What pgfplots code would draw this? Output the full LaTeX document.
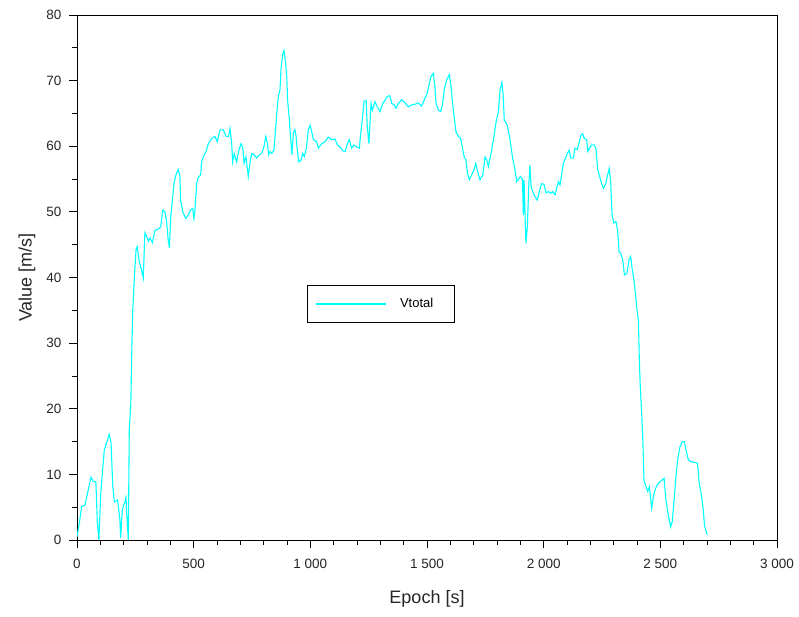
\documentclass[border=0pt]{standalone}
\usepackage{fontspec}
\setmainfont{Liberation Sans}
\usepackage{pgfplots}
\pgfplotsset{compat=1.18}
\definecolor{vcyan}{RGB}{0,255,255}

\pgfplotstableread{
x y
0 0.5
10 2.6
20 5.1
34 5.3
48 7.6
60 9.6
70 8.9
81 8.9
87 2.8
94 0
101 6.6
109 10.4
117 13.7
130 15.2
138 16.1
146 14.8
153 8.4
160 5.8
174 6.1
184 3.0
187 0.3
194 4.6
203 5.6
210 6.5
213 4.1
220 0
224 16.8
231 21.0
234 27.4
239 35.0
246 40.1
253 44.2
258 44.7
267 42.4
277 41.1
284 39.9
291 46.8
299 46.2
306 45.5
313 46.0
323 45.3
334 47.2
349 47.4
359 47.7
367 50.3
377 50.0
384 48.5
391 45.7
396 44.5
401 48.8
409 51.8
416 54.4
424 55.6
434 56.5
441 55.4
444 51.8
453 50.0
466 49.0
477 49.5
487 50.3
496 50.5
501 49.0
506 50.5
513 54.3
520 55.3
530 55.6
534 57.6
541 58.4
553 59.2
563 60.4
577 61.2
591 61.5
601 60.7
613 62.5
627 62.5
639 61.5
649 61.5
656 62.7
663 60.4
667 57.6
674 58.9
684 57.6
694 59.4
703 60.4
710 59.9
716 57.4
724 58.4
734 55.4
741 57.4
749 58.9
759 58.7
770 58.2
781 58.7
792 58.9
801 59.9
809 61.5
816 60.4
821 58.7
827 59.2
834 58.9
844 59.4
851 62.5
856 65.0
863 67.6
870 68.6
874 71.6
881 73.9
887 74.6
893 73.1
899 70.6
903 66.8
909 64.5
916 61.0
921 58.7
927 62.0
934 62.5
939 61.5
944 59.4
951 57.6
960 57.9
967 58.9
974 58.4
984 59.9
991 62.5
999 63.2
1006 62.2
1013 61.0
1027 60.7
1034 59.7
1049 60.4
1063 60.7
1077 61.4
1092 61.0
1106 61.1
1116 60.2
1127 59.9
1139 59.3
1149 59.2
1159 60.4
1167 61.0
1177 59.7
1187 60.2
1199 59.9
1210 59.7
1216 62.0
1224 64.5
1230 66.8
1239 67.0
1244 63.0
1251 60.4
1260 66.5
1266 65.5
1277 66.8
1287 66.0
1299 65.3
1310 66.5
1320 67.0
1330 67.6
1341 67.7
1349 66.5
1359 66.3
1367 65.8
1377 66.5
1391 67.1
1406 66.6
1420 66.0
1434 66.3
1449 66.4
1463 66.6
1477 66.1
1491 67.3
1501 68.1
1510 69.6
1517 70.6
1527 71.1
1534 69.1
1539 66.5
1549 65.5
1559 65.3
1567 66.5
1574 68.6
1584 70.1
1596 70.9
1603 69.1
1610 66.5
1617 64.3
1624 62.2
1634 61.5
1644 61.2
1651 59.9
1659 58.4
1667 57.9
1673 55.9
1681 54.9
1691 55.6
1701 56.4
1709 57.4
1717 56.1
1727 54.9
1739 55.6
1749 58.4
1756 57.9
1763 56.9
1777 59.4
1787 61.5
1796 63.7
1806 65.3
1813 68.6
1821 69.7
1827 67.6
1831 64.0
1844 63.2
1856 61.0
1866 58.4
1877 56.4
1884 54.6
1894 55.1
1901 55.4
1909 54.9
1913 49.5
1916 54.9
1920 49.8
1924 45.2
1930 47.7
1936 53.8
1941 57.1
1946 53.8
1953 53.1
1963 52.3
1973 51.8
1981 53.1
1991 54.3
2001 54.2
2010 52.9
2020 53.1
2030 52.8
2039 53.1
2049 52.6
2056 53.6
2063 54.6
2070 54.1
2077 55.6
2084 57.4
2094 58.2
2101 58.9
2109 59.4
2116 58.2
2127 58.2
2134 59.7
2144 59.5
2153 60.7
2160 61.7
2167 61.9
2174 61.2
2184 61.0
2189 59.2
2196 59.7
2206 60.2
2216 60.2
2224 59.7
2231 56.6
2238 55.6
2246 54.6
2256 53.6
2266 54.3
2274 55.6
2281 56.6
2287 54.6
2293 49.5
2301 48.3
2310 48.5
2317 47.2
2323 43.9
2330 43.7
2339 42.7
2346 40.4
2356 40.6
2366 42.7
2373 43.2
2380 41.1
2387 39.6
2395 37.0
2400 35.0
2406 33.5
2410 27.4
2414 23.4
2420 19.3
2424 16.3
2430 9.1
2439 8.1
2446 7.4
2453 8.1
2459 6.1
2463 4.8
2470 6.6
2480 7.9
2490 8.6
2506 9.1
2516 9.4
2524 6.1
2534 3.8
2544 2.0
2551 2.8
2559 6.1
2567 9.6
2574 12.2
2584 14.2
2594 15.0
2603 15.0
2610 13.7
2620 12.2
2634 11.9
2649 11.8
2659 11.7
2667 8.6
2677 6.6
2684 4.6
2689 2.3
2696 1.3
2701 0.8
}\vtotal

\begin{document}
\begin{tikzpicture}
\path[use as bounding box] (-77pt,-77pt) rectangle (722pt,540pt);
\begin{axis}[
  at={(0pt,0pt)}, anchor=south west,
  scale only axis, width=700pt, height=525pt,
  xmin=0, xmax=3000, ymin=0, ymax=80,
  xtick={0,500,...,3000}, ytick={0,10,...,80},
  minor x tick num=4, minor y tick num=1,
  xtick pos=bottom, ytick pos=left,
  tick align=outside,
  major tick length=8pt, minor tick length=4.5pt,
  tick style={black, line width=0.8pt},
  axis line style={black, line width=0.8pt},
  /pgf/number format/assume math mode=true,
  /pgf/number format/1000 sep={\ },
  tick label style={font=\fontsize{13.5}{13.5}\selectfont, color=black!85},
  xticklabel style={yshift=-8pt},
  yticklabel style={xshift=-4pt},
  label style={font=\fontsize{18}{18}\selectfont, color=black!85},
  xlabel={Epoch [s]}, ylabel={Value [m/s]},
  xlabel style={at={(axis description cs:0.5,-0.1124)}, anchor=center},
  ylabel style={at={(axis description cs:-0.0714,0.5)}, anchor=center},
  legend style={at={(rel axis cs:0.3286,0.4857)}, anchor=north west,
    draw=black, line width=0.8pt, inner xsep=8pt, inner ysep=9pt,
    font=\fontsize{13}{13}\selectfont,
    nodes={inner sep=4pt}},
  legend image code/.code={\draw[#1, line width=1.3pt] (0pt,0pt) -- (70pt,0pt);
    \node[inner sep=0pt, minimum size=0pt] at (80pt,0pt) {};},
]
\addplot[vcyan, line width=1.1pt] table[x=x, y=y] {\vtotal};
\addlegendentry{Vtotal\hspace*{9pt}}
\end{axis}
\end{tikzpicture}
\end{document}
